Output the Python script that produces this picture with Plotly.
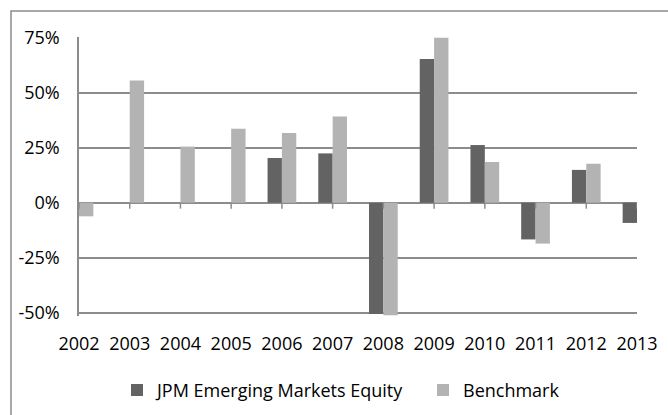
import plotly.graph_objects as go

years = ["2002", "2003", "2004", "2005", "2006", "2007",
         "2008", "2009", "2010", "2011", "2012", "2013"]
jpm_returns = [None, None, None, None, 20.3, 22.4, -50.6, 65.3, 26.2, -16.7, 14.9, -9.2]
benchmark_returns = [-6.2, 55.5, 25.5, 33.6, 31.7, 39.2, -51.2, 75.0, 18.5, -18.6, 17.7, None]
y_ticks = [-50, -25, 0, 25, 50, 75]
y_tick_text = ["-50%", "-25%", "0%", "25%", "50%", "75%"]

DARK = "#636363"
LIGHT = "#b3b3b3"
GRID = "#8c8c8c"
FONT = "Open Sans"
FS = 18

W, H = 668, 415
ML, MR, MT, MB = 79, 31, 37, 99
Y_RANGE = [-51.5, 75.3]
pw = W - ML - MR
ph = H - MT - MB

idx = list(range(len(years)))

fig = go.Figure()
fig.add_trace(go.Bar(x=idx, y=jpm_returns, name="JPM Emerging Markets Equity",
                     marker=dict(color=DARK, line=dict(width=0)), legend="legend"))
fig.add_trace(go.Bar(x=idx, y=benchmark_returns, name="Benchmark",
                     marker=dict(color=LIGHT, line=dict(width=0)), legend="legend2"))

# short tick marks hanging below the zero line at each category
zero_pos = (0 - Y_RANGE[0]) / (Y_RANGE[1] - Y_RANGE[0])
shapes = [dict(type="line", xref="x", yref="paper", x0=i, x1=i,
               y0=zero_pos, y1=zero_pos - 6 / ph,
               line=dict(color=GRID, width=1.5), layer="above") for i in idx]

# outer chart border (extends past the page edges on the right and bottom)
shapes.append(dict(type="rect", xref="paper", yref="paper", layer="below",
                   x0=(11 - ML) / pw, x1=(W + 5 - ML) / pw,
                   y0=-(H + 5 - (H - MB)) / ph, y1=(H - MB - 11) / ph,
                   line=dict(color=GRID, width=1.5), fillcolor="rgba(0,0,0,0)"))

legend_common = dict(orientation="h", yanchor="middle", y=-0.266, xanchor="left",
                     font=dict(family=FONT, size=FS), itemwidth=30,
                     bgcolor="rgba(0,0,0,0)")

fig.update_layout(
    width=W, height=H,
    margin=dict(l=ML, r=MR, t=MT, b=MB, autoexpand=False),
    paper_bgcolor="white", plot_bgcolor="white",
    barmode="group", bargap=0.434, bargroupgap=0,
    font=dict(family=FONT, size=FS, color="#000000"),
    showlegend=True,
    legend=dict(x=(117 - ML) / pw, **legend_common),
    legend2=dict(x=(423 - ML) / pw, **legend_common),
    shapes=shapes,
    xaxis=dict(range=[0, 11], tickvals=idx, ticktext=years, showgrid=False,
               zeroline=False, showline=False, ticks="", ticklabelstandoff=15,
               tickfont=dict(family=FONT, size=FS)),
    yaxis=dict(range=Y_RANGE, tickvals=y_ticks, ticktext=y_tick_text,
               showgrid=True, gridcolor=GRID, gridwidth=1.5,
               zeroline=True, zerolinecolor=GRID, zerolinewidth=1.5,
               showline=True, linecolor=GRID, linewidth=1.5,
               ticks="", ticklabelstandoff=14,
               tickfont=dict(family=FONT, size=FS)),
)

fig.write_html("out.html")
